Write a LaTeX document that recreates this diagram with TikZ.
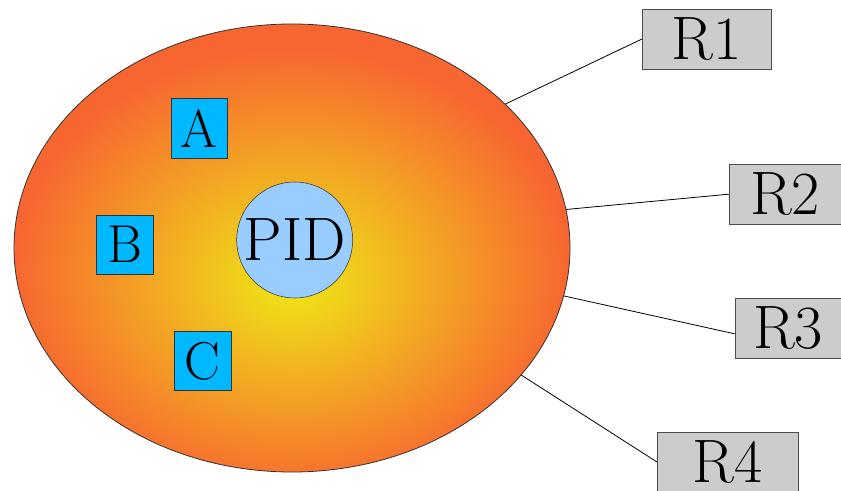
\documentclass[tikz,border=0pt]{standalone}
\usetikzlibrary{shapes.geometric}

\definecolor{eggcore}{RGB}{238,232,22}
\definecolor{eggrim}{RGB}{247,102,48}
\definecolor{letterblue}{RGB}{0,184,255}
\definecolor{pidblue}{RGB}{153,204,255}
\definecolor{regray}{RGB}{204,204,204}
\pgfdeclareradialshading{eggshade}{\pgfpoint{0bp}{-3.8bp}}{color(0bp)=(eggcore); color(25bp)=(eggrim); color(100bp)=(eggrim)}

\begin{document}
\begin{tikzpicture}[x=0.75pt, y=-0.75pt,
  letterbox/.style={draw=black!80, fill=letterblue, inner sep=0pt,
    minimum width=42.5pt, minimum height=44.5pt, font=\fontsize{40}{42}\selectfont},
  regbox/.style={draw=black!70, fill=regray, inner sep=0pt,
    minimum height=45pt, font=\fontsize{46}{48}\selectfont},
  wire/.style={black, line width=0.6pt}]

\useasboundingbox (0,0) rectangle (841,491);

% -------- big egg -----------
\node [ellipse, draw=black!80, line width=0.6pt, shading=eggshade,
       minimum width=417pt, minimum height=336pt, inner sep=0pt] (egg) at (292,248) {};

\node [letterbox] (A) at (199.2,128.3) {A};
\node [letterbox] (B) at (124.7,244.7) {B};
\node [letterbox] (C) at (202.7,361.0) {C};

\node [circle, draw=black!80, fill=pidblue, inner sep=0pt, minimum size=87pt,
       font=\fontsize{46}{48}\selectfont] (pid) at (294.7,240) {PID};

% -------- R boxes -----------
\node [regbox, minimum width=96.5pt]  (R1) at (706.6,39.0)  {R1};
\node [regbox, minimum width=84pt]    (R2) at (785.0,194.2) {R2};
\node [regbox, minimum width=79.5pt]  (R3) at (788.0,328.5) {R3};
\node [regbox, minimum width=105.4pt] (R4) at (727.5,462.0) {R4};

\draw [wire] (egg.34.2)  -- (R1.west);
\draw [wire] (egg.8)     -- (R2.west);
\draw [wire] (egg.-10.5) -- ([yshift=-4pt]R3.west);
\draw [wire] (egg.-29.9) -- (R4.west);

\end{tikzpicture}
\end{document}
